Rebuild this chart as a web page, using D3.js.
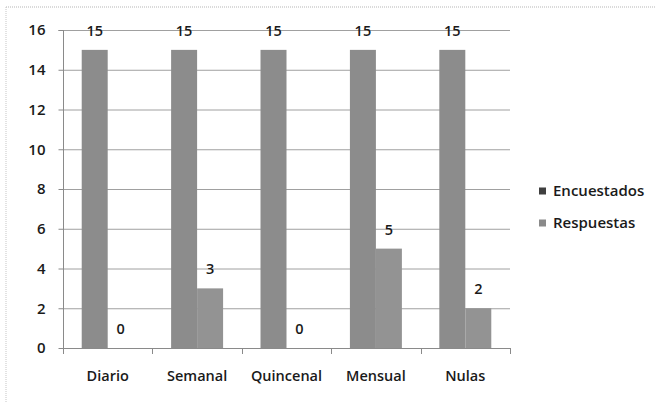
<!DOCTYPE html>
<html><head><meta charset="utf-8">
<script src="https://cdn.jsdelivr.net/npm/d3@7"></script>
<style>
html,body{margin:0;padding:0;background:#fff;}
text{font-family:"Open Sans","Noto Sans",sans-serif;}
</style></head>
<body>
<svg id="c" width="655" height="403"></svg>
<script>
const categories = ["Diario","Semanal","Quincenal","Mensual","Nulas"];
const seriesNames = ["Encuestados","Respuestas"];
const encuestados = [15,15,15,15,15];
const respuestas = [0,3,0,5,2];
const yTicks = [0,2,4,6,8,10,12,14,16];
const barColors = ["#8c8c8c","#939393"];
const legendColors = ["#3f3f3f","#8a8a8a"];

const svg = d3.select("#c");
const M = {l:63, r:510, t:30, b:348};
const values = [encuestados, respuestas];

// outer border
svg.append("line").attr("x1",6).attr("x2",655).attr("y1",7).attr("y2",7).attr("stroke","#b5b5b5").attr("stroke-dasharray","1,1");
svg.append("line").attr("x1",6).attr("x2",6).attr("y1",7).attr("y2",403).attr("stroke","#c5c5c5").attr("stroke-dasharray","1,1");

const x = d3.scaleBand().domain(categories).range([M.l, M.r]).paddingInner(0).paddingOuter(0);
const y = d3.scaleLinear().domain([0,16]).range([M.b, M.t]);
const xs = d3.scaleBand().domain(seriesNames).range([0, x.bandwidth()]).paddingInner(0).paddingOuter(0.72);

// gridlines
svg.append("g").selectAll("line").data(yTicks.filter(d=>d>0)).join("line")
  .attr("x1",M.l).attr("x2",M.r).attr("y1",d=>y(d)+0.5).attr("y2",d=>y(d)+0.5)
  .attr("stroke","#a0a0a0").attr("stroke-width",1);

// y axis
const ya = svg.append("g").attr("transform",`translate(${M.l+0.5},0)`)
  .call(d3.axisLeft(y).tickValues(yTicks).tickSize(5).tickPadding(13).tickFormat(d3.format("d")));
ya.select(".domain").attr("stroke","#8a8a8a").attr("d",`M-5,${M.t+0.5}H0V${M.b+0.5}`);
ya.selectAll(".tick line").attr("stroke","#8a8a8a");
ya.selectAll(".tick text").attr("font-size","15px").attr("font-weight","600").attr("fill","#1a1a1a")
  .style("font-family","'Open Sans',sans-serif");

// x axis
const xa = svg.append("g").attr("transform",`translate(0,${M.b+0.5})`)
  .call(d3.axisBottom(x).tickSize(0).tickPadding(22));
xa.select(".domain").attr("stroke","#8a8a8a").attr("d",`M${M.l},0H${M.r}`);
xa.selectAll(".tick text").attr("font-size","14.5px").attr("font-weight","600").attr("fill","#1a1a1a")
  .style("font-family","'Open Sans',sans-serif");
const bounds = categories.map(c=>x(c)).concat([x(categories[categories.length-1])+x.bandwidth()]);
svg.append("g").selectAll("line").data(bounds).join("line")
  .attr("x1",d=>Math.round(d)+0.5).attr("x2",d=>Math.round(d)+0.5).attr("y1",M.b).attr("y2",M.b+6)
  .attr("stroke","#8a8a8a");

// bars
seriesNames.forEach((s,si)=>{
  const g = svg.append("g");
  g.selectAll("rect").data(categories).join("rect")
    .attr("x",c=>x(c)+xs(s)).attr("width",xs.bandwidth())
    .attr("y",(c,i)=>y(values[si][i])).attr("height",(c,i)=>y(0)-y(values[si][i]))
    .attr("fill",barColors[si]);
  g.selectAll("text").data(categories).join("text")
    .attr("x",c=>x(c)+xs(s)+xs.bandwidth()/2)
    .attr("y",(c,i)=>y(values[si][i])-14)
    .attr("text-anchor","middle").attr("font-size","14.5px").attr("font-weight","600").attr("fill","#1a1a1a")
    .text((c,i)=>values[si][i]);
});

// legend
const lg = svg.append("g");
seriesNames.forEach((s,i)=>{
  const cy = 191 + i*32;
  lg.append("rect").attr("x",539).attr("y",cy-3.5).attr("width",7).attr("height",7).attr("fill",legendColors[i]);
  lg.append("text").attr("x",553).attr("y",cy).attr("dy","0.35em").attr("font-size","15px").attr("font-weight","600")
    .attr("fill","#1a1a1a").text(s);
});
</script>
</body></html>
